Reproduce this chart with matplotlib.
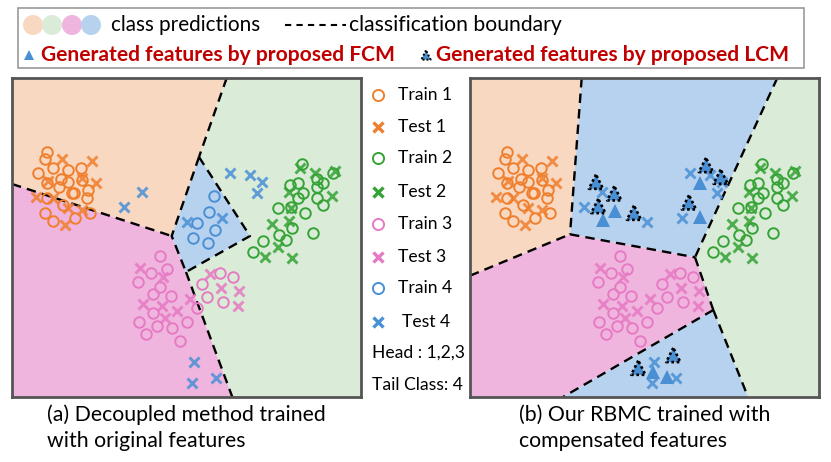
import matplotlib
matplotlib.use("Agg")
import matplotlib.pyplot as plt
from matplotlib.patches import Rectangle, Circle
import numpy as np

plt.rcParams['font.family'] = ['Lato', 'DejaVu Sans']

# ---------------- data (2-D feature space, shared by both panels) ----------------
train1 = [(46.7,151.7),(45,159.3),(38.3,173.3),(53.3,168.3),(68.3,170),(80.7,168.3),
          (46.7,182.7),(60.7,179.3),(68.3,181.7),(81.7,180),(88.3,190),(59.3,187.3),
          (71.7,193.3),(74.3,193.3),(86.7,198.3),(47.3,198.3),(63.3,205),(45,212.7),
          (53.3,220.7),(75,218.3),(90,213.3)]
test1 = [(62.3,158.5),(91.7,161),(96.3,183),(48.3,180.5),(81.7,177.5),(36,196.7),
         (53.3,197.7),(68.3,208.3),(81.7,210),(64.5,224.5)]
train2 = [(301.7,163.5),(333.3,172.5),(290,185),(298.3,183.3),(316.7,179.3),(323.3,183.3),
          (316.7,187.3),(303.3,193.3),(298.3,198.3),(316.7,198.3),(323.3,205),(278.3,207.7),
          (291,207.3),(305,213.3),(291.7,228.3),(279.3,235),(286,240),(262.7,240.7),
          (313.3,232.7),(253.3,251.7)]
test2 = [(300,168.3),(315,173.3),(335,171),(331.7,195.8),(289,191.7),(290.5,207.5),
         (289.3,221.2),(272.2,224),(278.3,246.7),(265,256.7),(291.7,258.3)]
train3 = [(160,255.7),(150.7,273.3),(167.3,269.3),(138.3,282.3),(160,287.3),(152.7,294),
          (171,295.7),(153.3,313.3),(139,321.7),(157.3,325.7),(171.7,328.3),(186.7,321.7),
          (146,334.3),(180,341),(196.7,307.7),(220,273.3),(232.7,277.3),(201.7,284.3),
          (206.7,296.7),(222.7,302.3)]
test3 = [(140,268.3),(163.3,276.7),(142.7,304.3),(161.7,305.7),(176.7,311),(165,317.7),
         (190,299),(210,274.3),(220.7,288.3),(239,291),(238.3,305.7)]
train4 = [(214,196),(209.3,212.3),(197.3,222.7),(215,230),(193.3,238.3),(207.7,243.3)]
test4 = [(124.3,206.5),(142.3,191.7),(186.7,222),(221.5,218),(230,173.3),(250,175),
         (261.7,182.3),(256.7,193),(194,361.7),(191.7,382.8),(215.5,378)]

# generated tail-class features (right panel only)
fcm = [(155,211),(142.7,220),(240,182.7),(240,216.7),(193.3,371.7),(207.3,376.7)]
lcm = [(136,181.7),(154.3,193.3),(138.3,206),(174,212.7),(246,165),(260.7,176.7),
       (229,202.3),(178.3,367.7),(213.3,355)]

# decision regions (polygon vertices in feature space)
regions_a = {
    'c1': [(12,78),(226.7,78),(199,157),(171.7,236),(12,184)],
    'c2': [(226.7,78),(361,78),(361,397),(232.3,397),(186,272),(250,236),(199,157)],
    'c3': [(12,184),(171.7,236),(186,272),(232.3,397),(12,397)],
    'c4': [(199,157),(250,236),(186,272),(171.7,236)],
}
bounds_a = [
    [(226.7,78),(199,157)],
    [(12,184),(171.7,236)],
    [(199,157),(250,236),(186,272),(171.7,236),(199,157)],
    [(186,272),(232.3,397)],
]
A, B, C = (121.7,78), (110,234.3), (10,275.7)
D, E, F = (317.3,78), (235,257.3), (253.3,310)
G, H = (103,397), (288,397)
regions_b = {
    'c1': [(10,78),A,B,C],
    'c4': [A,D,E,B],
    'c2': [D,(359,78),(359,397),H,F,E],
    'c3': [C,B,E,F,G,(10,397)],
    'c4b': [F,H,G],
}
bounds_b = [[A,B],[C,B],[B,E],[D,E],[E,F],[F,G],[F,H]]

legend_labels = ['Train 1','Test 1','Train 2','Test 2','Train 3','Test 3','Train 4','Test 4']

# ---------------- styles ----------------
region_col = {'c1':'#f9d8c2','c2':'#daecd8','c3':'#f0b5de','c4':'#b7d2ee','c4b':'#b7d2ee'}
mcol = {1:'#ef7f2d', 2:'#36a336', 3:'#e67ac3', 4:'#4a90d6'}
W, Hpx = 831, 462

fig = plt.figure(figsize=(W/100, Hpx/100), dpi=100)

def px_axes(x0, y0, x1, y1):
    return fig.add_axes([x0/W, 1-y1/Hpx, (x1-x0)/W, (y1-y0)/Hpx])

def draw_points(ax, show_train4=True):
    kw_o = dict(marker='o', mfc='none', ms=7.6, mew=1.4, ls='none')
    kw_x = dict(marker='x', ms=7.4, mew=2.1, ls='none', alpha=0.85)
    for k, (tr, te) in {1:(train1,test1), 2:(train2,test2), 3:(train3,test3)}.items():
        a = np.array(tr); b = np.array(te)
        ax.plot(a[:,0], a[:,1], mec=mcol[k], **kw_o, zorder=3)
        ax.plot(b[:,0], b[:,1], color=mcol[k], **kw_x, zorder=3)
    if show_train4:
        a = np.array(train4)
        ax.plot(a[:,0], a[:,1], mec=mcol[4], **kw_o, zorder=3)
    b = np.array(test4)
    ax.plot(b[:,0], b[:,1], color=mcol[4], **kw_x, zorder=3)

def style_panel(ax, regions, bounds, xlim):
    ax.set_xlim(*xlim); ax.set_ylim(397, 78)
    for k, poly in regions.items():
        p = np.array(poly)
        ax.fill(p[:,0], p[:,1], color=region_col[k], lw=0, zorder=1)
    for seg in bounds:
        s = np.array(seg)
        ax.plot(s[:,0], s[:,1], color='k', lw=1.7, ls=(0,(4,2.6)), zorder=2)
    ax.set_xticks([]); ax.set_yticks([])
    for sp in ax.spines.values():
        sp.set_color('#555555'); sp.set_linewidth(2.0)

# left panel
axa = px_axes(12, 78, 361, 397)
style_panel(axa, regions_a, bounds_a, (12, 361))
draw_points(axa, True)

# right panel
axb = px_axes(470, 78, 819, 397)
style_panel(axb, regions_b, bounds_b, (10, 359))
draw_points(axb, False)
f = np.array(fcm)
axb.plot(f[:,0], f[:,1], marker='^', ls='none', ms=9.5, color='#4a8fd4', mew=0, zorder=4)
l = np.array(lcm)
axb.scatter(l[:,0], l[:,1], marker='^', s=105, facecolor='#4a8fd4', edgecolor='k',
            linewidths=1.9, linestyle=(0,(1,1)), zorder=4)

# overlay in pixel coordinates for legends and captions
ov = fig.add_axes([0, 0, 1, 1])
ov.set_xlim(0, W); ov.set_ylim(Hpx, 0); ov.axis('off'); ov.patch.set_alpha(0)

# top legend box
ov.add_patch(Rectangle((18, 8), 786, 60, fill=False, ec='#9a9a9a', lw=1.2))
for cx, k in zip([33, 52, 72, 91], ['c1','c2','c3','c4']):
    ov.add_patch(Circle((cx, 25), 10, color=region_col[k], lw=0))
ov.text(111, 25, 'class predictions', fontsize=14.9, va='center', ha='left')
ov.plot([285, 346], [25, 25], color='k', lw=1.5, ls=(0,(3,2.5)))
ov.text(349, 25, 'classification boundary', fontsize=15.2, va='center', ha='left')
ov.plot([29], [55], marker='^', ms=6.5, color='#4a8fd4', mew=0)
ov.text(41, 55, 'Generated features by proposed FCM', fontsize=15.1, fontweight='bold',
        color='#c00000', va='center', ha='left')
ov.scatter([426], [55], marker='^', s=45, facecolor='#4a8fd4', edgecolor='k',
           linewidths=1.4, linestyle=(0,(1,1)))
ov.text(436, 55, 'Generated features by proposed LCM', fontsize=15.1, fontweight='bold',
        color='#c00000', va='center', ha='left')

# middle legend
rows_y = [95, 126.7, 158.3, 191.7, 224, 256.7, 288.3, 322]
for i, (lab, y) in enumerate(zip(legend_labels, rows_y)):
    k = i // 2 + 1
    if i % 2 == 0:
        ov.plot([377.7], [y], marker='o', mfc='none', mec=mcol[k], ms=8, mew=1.4)
    else:
        ov.plot([377.7], [y], marker='x', color=mcol[k], ms=7.5, mew=2.4)
    ov.text(401.5 if lab == 'Test 4' else 398, y, lab, fontsize=12.6, va='center', ha='left')
ov.text(371.5, 353, 'Head : 1,2,3', fontsize=12.6, va='center', ha='left')
ov.text(371.5, 385, 'Tail Class: 4', fontsize=12.6, va='center', ha='left')

# captions
cap_kw = dict(fontsize=15.3, va='center', ha='left')
ov.text(46.7, 415, '(a) Decoupled method trained', **cap_kw)
ov.text(46.7, 441, 'with original features', **cap_kw)
ov.text(519, 415, '(b) Our RBMC trained with', **cap_kw)
ov.text(519, 441, 'compensated features', **cap_kw)

fig.savefig('out.png', dpi=100)
